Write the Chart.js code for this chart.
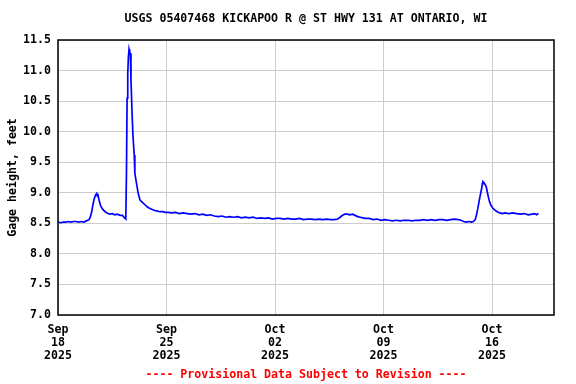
<!DOCTYPE html>
<html>
<head>
<meta charset="utf-8">
<script src="https://cdn.jsdelivr.net/npm/chart.js@4.4.1/dist/chart.umd.min.js"></script>
<style>
  body { margin: 0; background: #fff; }
  canvas { display: block; }
</style>
</head>
<body>
<canvas id="gage" width="576" height="384"></canvas>
<script>
// hours since Sep 18 2025 00:00
const hours = [
  0, 4, 8, 12, 16, 20, 24, 28, 32, 36, 40, 44,
  46, 48, 50, 52, 54, 56, 58, 60, 61, 62, 64, 66, 68, 70, 73, 76, 80, 84, 88, 92, 96, 100, 102, 104, 105,
  106, 107, 108, 109, 110, 111, 112, 113, 114.5, 116, 118, 119, 120.5, 122, 124, 125.5, 127, 129, 132, 135,
  138, 141, 145, 150, 154, 158, 162, 166, 170,
  176, 182, 188, 194, 200, 206, 212, 218, 224, 230, 236, 242, 248, 254, 260, 266, 272, 278, 284, 290,
  296, 302, 308, 314, 320, 326, 332, 338, 344, 350, 356, 362, 368, 374, 380, 386, 392, 398, 404, 410,
  416, 422, 428,
  433, 437, 440, 444, 448, 452, 456, 460, 464, 468, 472, 476, 482, 488, 494, 500, 506, 512, 518, 524,
  530, 536, 542, 548, 554, 560, 566, 572, 578, 584, 590, 596, 602, 608, 614, 620, 624, 628, 632, 636,
  640, 643, 646, 648, 650, 652, 654, 656, 657, 658, 660, 662, 663, 665, 666, 668, 670, 673, 676, 680,
  684, 688, 692, 698, 704, 710, 716, 722, 728, 734, 738, 741, 744
];
const gageHeight = [
  8.52, 8.51, 8.52, 8.52, 8.53, 8.52, 8.53, 8.53, 8.52, 8.53, 8.52, 8.54,
  8.55, 8.56, 8.60, 8.68, 8.80, 8.90, 8.96, 8.99, 8.95, 8.96, 8.86, 8.79, 8.75, 8.72, 8.69, 8.67, 8.65, 8.66, 8.64, 8.65, 8.63, 8.63, 8.60, 8.58, 8.57,
  9.32, 10.55, 10.95, 11.22, 11.35, 11.30, 11.28, 10.85, 10.35, 9.95, 9.62, 9.32, 9.22, 9.13, 9.00, 8.94, 8.88, 8.86, 8.83, 8.80,
  8.77, 8.75, 8.73, 8.71, 8.70, 8.69, 8.69, 8.68, 8.68,
  8.67, 8.68, 8.66, 8.67, 8.66, 8.65, 8.66, 8.64, 8.65, 8.63, 8.64, 8.62, 8.61, 8.62, 8.60, 8.61, 8.60, 8.61, 8.59, 8.60,
  8.59, 8.60, 8.58, 8.59, 8.58, 8.59, 8.57, 8.58, 8.58, 8.57, 8.58, 8.57, 8.57, 8.58, 8.56, 8.57, 8.57, 8.56, 8.57, 8.56,
  8.57, 8.56, 8.56,
  8.57, 8.60, 8.63, 8.65, 8.65, 8.64, 8.65, 8.63, 8.61, 8.60, 8.59, 8.58, 8.58, 8.56, 8.57, 8.55, 8.56, 8.55, 8.54, 8.55,
  8.54, 8.55, 8.55, 8.54, 8.55, 8.55, 8.56, 8.55, 8.56, 8.55, 8.56, 8.56, 8.55, 8.56, 8.57, 8.56, 8.55, 8.53, 8.52, 8.53,
  8.52, 8.53, 8.56, 8.64, 8.74, 8.86, 8.97, 9.07, 9.15, 9.18, 9.16, 9.12, 9.10, 9.00, 8.95, 8.86, 8.80, 8.75, 8.72, 8.69,
  8.67, 8.66, 8.67, 8.66, 8.67, 8.66, 8.65, 8.66, 8.64, 8.65, 8.66, 8.64, 8.66
];

const tickHours = [0, 168, 336, 504, 672];
const tickLabels = [
  ["Sep", "18", "2025"],
  ["Sep", "25", "2025"],
  ["Oct", "02", "2025"],
  ["Oct", "09", "2025"],
  ["Oct", "16", "2025"]
];
const yTicks = [7.0, 7.5, 8.0, 8.5, 9.0, 9.5, 10.0, 10.5, 11.0, 11.5];

const titleText = "USGS 05407468 KICKAPOO R @ ST HWY 131 AT ONTARIO, WI";
const footerText = "---- Provisional Data Subject to Revision ----";

const mono = "'DejaVu Sans Mono', 'Liberation Mono', monospace";
const monoBold = "bold 11.6px " + mono;

// frame round the plot, plus the title and footer centred over the plot
const decor = {
  id: "decor",
  afterDraw(chart) {
    const a = chart.chartArea;
    const ctx = chart.ctx;
    const cx = (a.left + a.right) / 2;
    ctx.save();
    ctx.strokeStyle = "#000";
    ctx.lineWidth = 1.5;
    ctx.strokeRect(a.left, a.top, a.right - a.left, a.bottom - a.top);
    ctx.font = monoBold;
    ctx.textAlign = "center";
    ctx.textBaseline = "middle";
    ctx.fillStyle = "#000";
    ctx.fillText(titleText, cx, 19);
    ctx.fillStyle = "#ff0000";
    ctx.fillText(footerText, cx, 375);
    ctx.restore();
  }
};

new Chart(document.getElementById("gage"), {
  type: "line",
  data: {
    datasets: [{
      data: hours.map((h, i) => ({ x: h, y: gageHeight[i] })),
      borderColor: "#0000ff",
      borderWidth: 1.7,
      pointRadius: 0,
      tension: 0,
      fill: false
    }]
  },
  options: {
    responsive: false,
    animation: false,
    devicePixelRatio: 1,
    layout: { padding: { left: 0, right: 22, top: 40, bottom: 24 } },
    plugins: {
      legend: { display: false },
      tooltip: { enabled: false }
    },
    scales: {
      x: {
        type: "linear",
        min: 0,
        max: 768,
        afterFit(scale) { scale.height = 45; },
        afterBuildTicks(scale) { scale.ticks = tickHours.map(v => ({ value: v })); },
        grid: { color: "#cccccc", lineWidth: 1, drawTicks: false },
        border: { display: false },
        ticks: {
          color: "#000",
          padding: 9,
          maxRotation: 0,
          autoSkip: false,
          font: { family: mono, size: 11.6, weight: "bold", lineHeight: 1.1 },
          callback: (v) => tickLabels[tickHours.indexOf(v)]
        }
      },
      y: {
        min: 7,
        max: 11.5,
        afterFit(scale) { scale.width = 58; },
        afterBuildTicks(scale) { scale.ticks = yTicks.map(v => ({ value: v })); },
        grid: { color: "#cccccc", lineWidth: 1, drawTicks: false },
        border: { display: false },
        title: {
          display: true,
          text: "Gage height, feet",
          color: "#000",
          font: { family: mono, size: 11.6, weight: "bold" },
          padding: { top: 6, bottom: 0 }
        },
        ticks: {
          color: "#000",
          padding: 7,
          font: { family: mono, size: 11.6, weight: "bold" },
          callback: (v) => v.toFixed(1)
        }
      }
    }
  },
  plugins: [decor]
});
</script>
</body>
</html>
